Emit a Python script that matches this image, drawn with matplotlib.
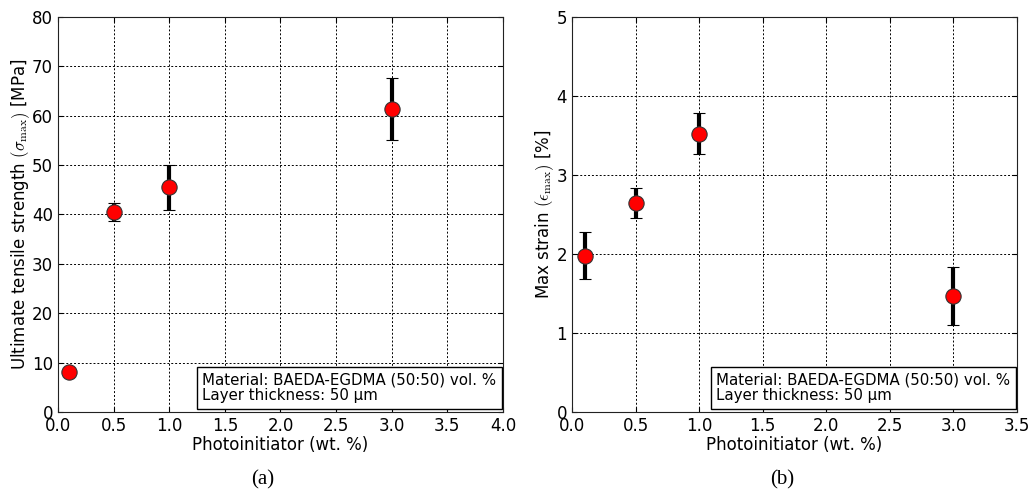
import numpy as np
import matplotlib
matplotlib.use('Agg')
import matplotlib.pyplot as plt
from matplotlib.ticker import FormatStrFormatter

plt.rc('font', family='DejaVu Sans', size=12)
plt.rc('mathtext', fontset='cm')
plt.rc('xtick', direction='in', top=True, labelsize=12)
plt.rc('ytick', direction='in', right=True, labelsize=12)

# data
photoinit = [0.1, 0.5, 1.0, 3.0]
uts = [8.0, 40.5, 45.5, 61.3]
uts_err = [0.6, 1.8, 4.5, 6.3]
strain = [1.98, 2.65, 3.52, 1.47]
strain_err = [0.30, 0.19, 0.26, 0.37]

note = 'Material: BAEDA-EGDMA (50:50) vol. %\nLayer thickness: 50 \u00b5m'


def plot_panel(ax, x, y, yerr, xlim, ylim, xstep, ystep, ylabel):
    ax.errorbar(x, y, yerr=yerr, fmt='o', color='red', mec='#333333', mew=0.8,
                ms=11, ecolor='black', elinewidth=3, capsize=4, capthick=1.5,
                zorder=3)
    ax.set_xlim(xlim)
    ax.set_ylim(ylim)
    ax.set_xticks(np.arange(xlim[0], xlim[1] + 0.01, xstep))
    ax.set_yticks(np.arange(ylim[0], ylim[1] + 0.01, ystep))
    ax.xaxis.set_major_formatter(FormatStrFormatter('%.1f'))
    ax.grid(True, color='black', linestyle=(0, (2, 2)), linewidth=0.7)
    ax.set_xlabel('Photoinitiator (wt. %)', labelpad=1)
    ax.set_ylabel(ylabel, labelpad=0)
    ax.text(0.985, 0.022, note, transform=ax.transAxes, ha='right', va='bottom',
            multialignment='left', fontsize=10.8, linespacing=1.05,
            bbox=dict(boxstyle='square,pad=0.35', fc='white', ec='black', lw=1))
    for s in ax.spines.values():
        s.set_color('#222222')


fig = plt.figure(figsize=(10.33, 4.94), dpi=100)
ax1 = fig.add_axes([0.0561, 0.166, 0.4308, 0.7996])
ax2 = fig.add_axes([0.5537, 0.166, 0.4308, 0.7996])

plot_panel(ax1, photoinit, uts, uts_err, (0, 4), (0, 80), 0.5, 10,
           r'Ultimate tensile strength $(\sigma_{\rm max})$ [MPa]')
plot_panel(ax2, photoinit, strain, strain_err, (0, 3.5), (0, 5), 0.5, 1,
           r'Max strain $(\epsilon_{\rm max})$ [%]')

fig.text(263 / 1033, 0.028, '(a)', ha='center', va='center',
         family='Liberation Serif', fontsize=15)
fig.text(782 / 1033, 0.028, '(b)', ha='center', va='center',
         family='Liberation Serif', fontsize=15)

fig.savefig('out.png', dpi=100)
